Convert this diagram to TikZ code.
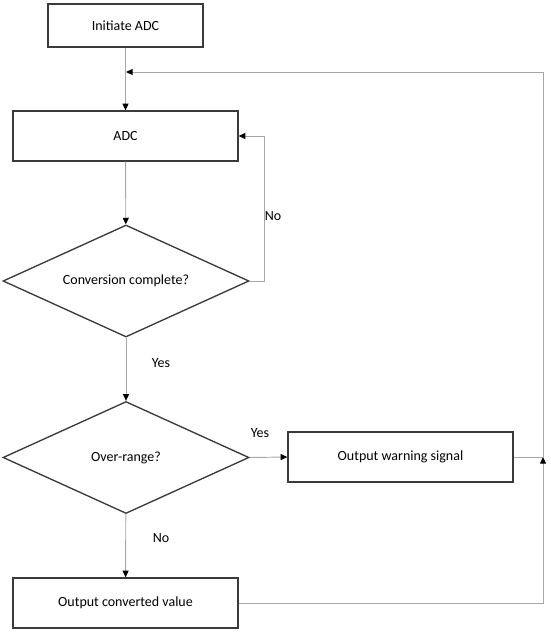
\documentclass[tikz,border=0pt]{standalone}
\usepackage{fontspec}
\setmainfont{Carlito}
\usetikzlibrary{shapes.geometric,arrows.meta}
\definecolor{linegray}{HTML}{a6a6a6}
\definecolor{boxline}{HTML}{3a3a3a}

\begin{document}
\begin{tikzpicture}[x=0.75pt, y=-0.75pt,
  font=\fontsize{10.5}{12}\selectfont,
  procbox/.style={draw=boxline, line width=1pt, rectangle, minimum width=225*0.75pt, minimum height=50*0.75pt, inner sep=0pt},
  decision/.style={draw=boxline, line width=1pt, diamond, aspect=2.2, minimum width=246*0.75pt, minimum height=112*0.75pt, inner sep=0pt},
  flow/.style={draw=linegray, line width=0.7pt, -{Triangle[length=5pt,width=4.5pt,fill=black,color=black]}},
  plain/.style={draw=linegray, line width=0.7pt}]
  \useasboundingbox (0,0) rectangle (550,632);

  % main column
  \node[procbox, minimum width=155*0.75pt, minimum height=43*0.75pt] (init) at (125.5,25.5) {Initiate ADC};
  \node[procbox] (adc) at (125.5,136) {ADC};
  \node[decision] (conv) at (126,281) {Conversion complete?};
  \node[decision] (range) at (126,457.5) {Over-range?};
  \node[procbox] (outval) at (125.5,603) {Output converted value};
  \node[procbox] (warn) at (400.5,457) {Output warning signal};

  % junctions
  \coordinate (merge) at (126,72);
  \coordinate (join) at (543,457);

  \draw[flow] (init) -- (adc);
  \draw[flow] (adc) -- (conv);
  \draw[flow] (conv.east) -- ++(15,0) |- (adc.east);
  \draw[flow] (conv) -- (range);
  \draw[flow] (range.east) -- (warn.west);
  \draw[flow] (range) -- (outval);

  % feedback to ADC
  \draw[plain] (warn.east) -- (join);
  \draw[flow] (outval.east) -| (join);
  \draw[flow] (join) |- (merge);

  % labels
  \node (lno1) at (273,216) {No};
  \node (lyes1) at (161,363) {Yes};
  \node (lyes2) at (260,433) {Yes};
  \node (lno2) at (161,538) {No};
\end{tikzpicture}
\end{document}
